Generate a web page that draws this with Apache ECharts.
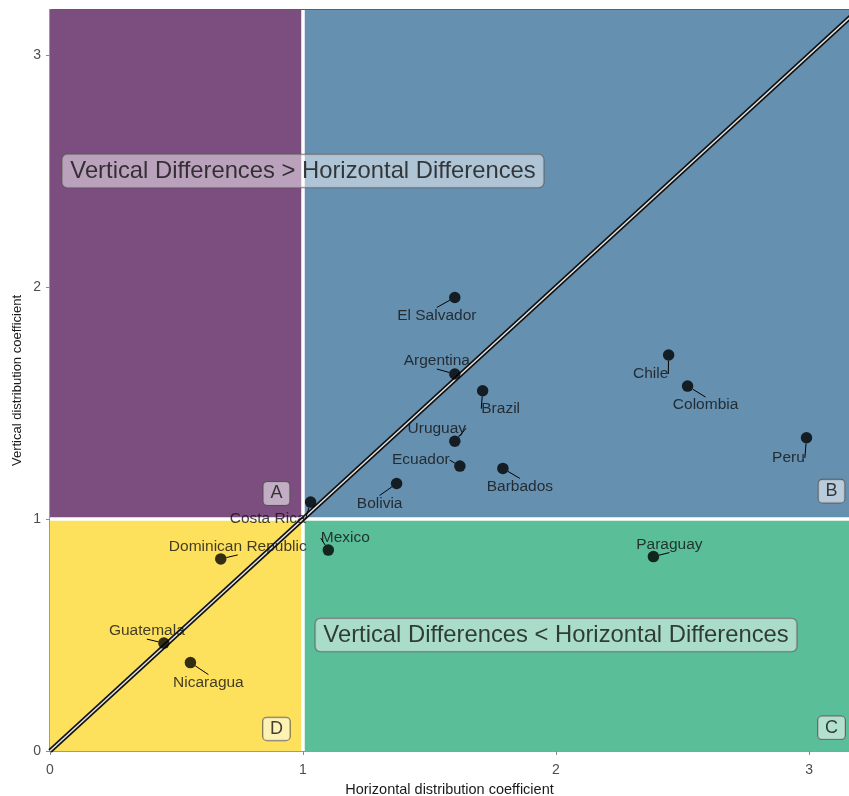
<!DOCTYPE html>
<html><head><meta charset="utf-8">
<script src="https://cdn.jsdelivr.net/npm/echarts@6/dist/echarts.min.js"></script>
<style>html,body{margin:0;padding:0;background:#fff}#c{width:849px;height:796px}</style>
</head><body><div id="c"></div>
<script>
// ---- data ----
const countries = ['El Salvador','Argentina','Brazil','Uruguay','Ecuador','Barbados','Bolivia','Chile','Colombia','Peru','Costa Rica','Dominican Republic','Guatemala','Nicaragua','Mexico','Paraguay'];
const horizontal = [1.60, 1.60, 1.71, 1.60, 1.62, 1.79, 1.37, 2.445, 2.52, 2.99, 1.03, 0.675, 0.45, 0.555, 1.10, 2.385];
const vertical   = [1.955, 1.625, 1.553, 1.335, 1.228, 1.218, 1.153, 1.707, 1.573, 1.350, 1.073, 0.828, 0.465, 0.381, 0.866, 0.838];
const xTicks = [0, 1, 2, 3];
const yTicks = [0, 1, 2, 3];
const threshold = 1;
const quadrantLetters = ['A', 'B', 'C', 'D'];
const letterX = [0.895, 3.089, 3.089, 0.895];
const letterY = [1.11, 1.12, 0.10, 0.095];
const noteTexts = ['Vertical Differences > Horizontal Differences', 'Vertical Differences < Horizontal Differences'];
const noteX = [1.0, 2.0];
const noteY = [2.5, 0.5];

// ---- style config ----
const xMax = 3.158, yMax = 3.194;
const FONT = 'Liberation Sans, Arial, sans-serif';
const colPurple = '#7c4d7f', colBlue = '#6690b0', colGreen = '#5abe98', colYellow = '#fde15d';
const labelOffsets = {
  'El Salvador': [-18, 18], 'Argentina': [-18, -13], 'Brazil': [18, 18], 'Uruguay': [-18, -13],
  'Ecuador': [-39, -6], 'Barbados': [17, 18], 'Bolivia': [-17, 20], 'Chile': [-18, 19],
  'Colombia': [18, 19], 'Peru': [-18, 20], 'Costa Rica': [-43, 17], 'Dominican Republic': [17, -12],
  'Guatemala': [-17, -12], 'Nicaragua': [18, 20], 'Mexico': [17, -12], 'Paraguay': [16, -12]
};

const chart = echarts.init(document.getElementById('c'), null, {renderer: 'canvas'});
const option = {
  animation: false,
  backgroundColor: '#ffffff',
  grid: {left: 50, right: 0, top: 10, bottom: 45, outerBoundsMode: 'none', containLabel: false,
    show: true, borderColor: '#2a2a2a', borderWidth: 1.5, backgroundColor: 'transparent'},
  xAxis: {
    type: 'value', min: 0, max: xMax,
    name: 'Horizontal distribution coefficient', nameLocation: 'middle', nameGap: 31,
    nameTextStyle: {fontFamily: FONT, fontSize: 14.5, color: '#1a1a1a'},
    axisLine: {show: true, onZero: false, lineStyle: {color: '#9a9a9a', width: 2}},
    axisTick: {show: true, length: 4, lineStyle: {color: '#8a8a8a'}, customValues: xTicks},
    axisLabel: {fontFamily: FONT, fontSize: 14, color: '#4d4d4d', margin: 12, customValues: xTicks},
    splitLine: {show: false}
  },
  yAxis: {
    type: 'value', min: 0, max: yMax,
    name: 'Vertical distribution coefficient', nameLocation: 'middle', nameGap: 26, nameRotate: 90,
    nameMoveOverlap: false,
    nameTextStyle: {fontFamily: FONT, fontSize: 13, color: '#1a1a1a'},
    axisLine: {show: true, onZero: false, lineStyle: {color: '#9a9a9a', width: 2}},
    axisTick: {show: true, length: 4, lineStyle: {color: '#8a8a8a'}, customValues: yTicks},
    axisLabel: {fontFamily: FONT, fontSize: 14, color: '#4d4d4d', margin: 9, customValues: yTicks},
    splitLine: {show: false}
  },
  series: [
    {
      type: 'line', data: [], silent: true,
      markArea: {
        silent: true, z: 1,
        data: [
          [{xAxis: 0, yAxis: threshold, itemStyle: {color: colPurple}}, {xAxis: threshold, yAxis: yMax}],
          [{xAxis: threshold, yAxis: threshold, itemStyle: {color: colBlue}}, {xAxis: xMax, yAxis: yMax}],
          [{xAxis: threshold, yAxis: 0, itemStyle: {color: colGreen}}, {xAxis: xMax, yAxis: threshold}],
          [{xAxis: 0, yAxis: 0, itemStyle: {color: colYellow}}, {xAxis: threshold, yAxis: threshold}]
        ]
      },
      markLine: {
        silent: true, z: 3, symbol: 'none', label: {show: false},
        lineStyle: {color: '#ffffff', width: 3.5, type: 'solid'},
        data: [{xAxis: threshold}, {yAxis: threshold}]
      }
    },
    {
      type: 'line', z: 6, silent: true, showSymbol: false, symbol: 'none',
      data: [[0, 0], [yMax, yMax]],
      lineStyle: {color: '#111', width: 4.8}
    },
    {
      type: 'line', z: 7, silent: true, showSymbol: false, symbol: 'none',
      data: [[0, 0], [yMax, yMax]],
      lineStyle: {color: '#e6e6e6', width: 1.5}
    },
    {
      type: 'scatter', z: 8, symbolSize: 11.5,
      itemStyle: {color: '#000'},
      data: countries.map((n, i) => ({name: n, value: [horizontal[i], vertical[i]]})),
      label: {show: true, position: 'inside', formatter: '{b}', fontFamily: FONT, fontSize: 15.5, color: '#111'},
      labelLayout: function (p) {
        const o = labelOffsets[countries[p.dataIndex]] || [0, 0];
        return {dx: o[0], dy: o[1]};
      },
      labelLine: {show: true, lineStyle: {color: '#000', width: 1}}
    },
    {
      type: 'scatter', z: 9, symbolSize: 1, silent: true,
      itemStyle: {color: 'rgba(0,0,0,0)'},
      data: quadrantLetters.map((t, i) => ({name: t, value: [letterX[i], letterY[i]]})),
      label: {show: true, position: 'inside', formatter: '{b}', fontFamily: FONT, fontSize: 18, color: '#111',
        backgroundColor: 'rgba(255,255,255,0.68)', borderColor: '#4a4a4a', borderWidth: 0.8, borderRadius: 4, padding: [3, 7, 2, 7]}
    },
    {
      type: 'scatter', z: 9, symbolSize: 1, silent: true,
      itemStyle: {color: 'rgba(0,0,0,0)'},
      data: noteTexts.map((t, i) => ({name: t, value: [noteX[i], noteY[i]]})),
      label: {show: true, position: 'inside', formatter: '{b}', fontFamily: FONT, fontSize: 23.8, color: '#111',
        backgroundColor: 'rgba(255,255,255,0.6)', borderColor: '#555', borderWidth: 0.8, borderRadius: 5, padding: [5, 8, 4, 8]}
    }
  ]
};
chart.setOption(option);
</script></body></html>
